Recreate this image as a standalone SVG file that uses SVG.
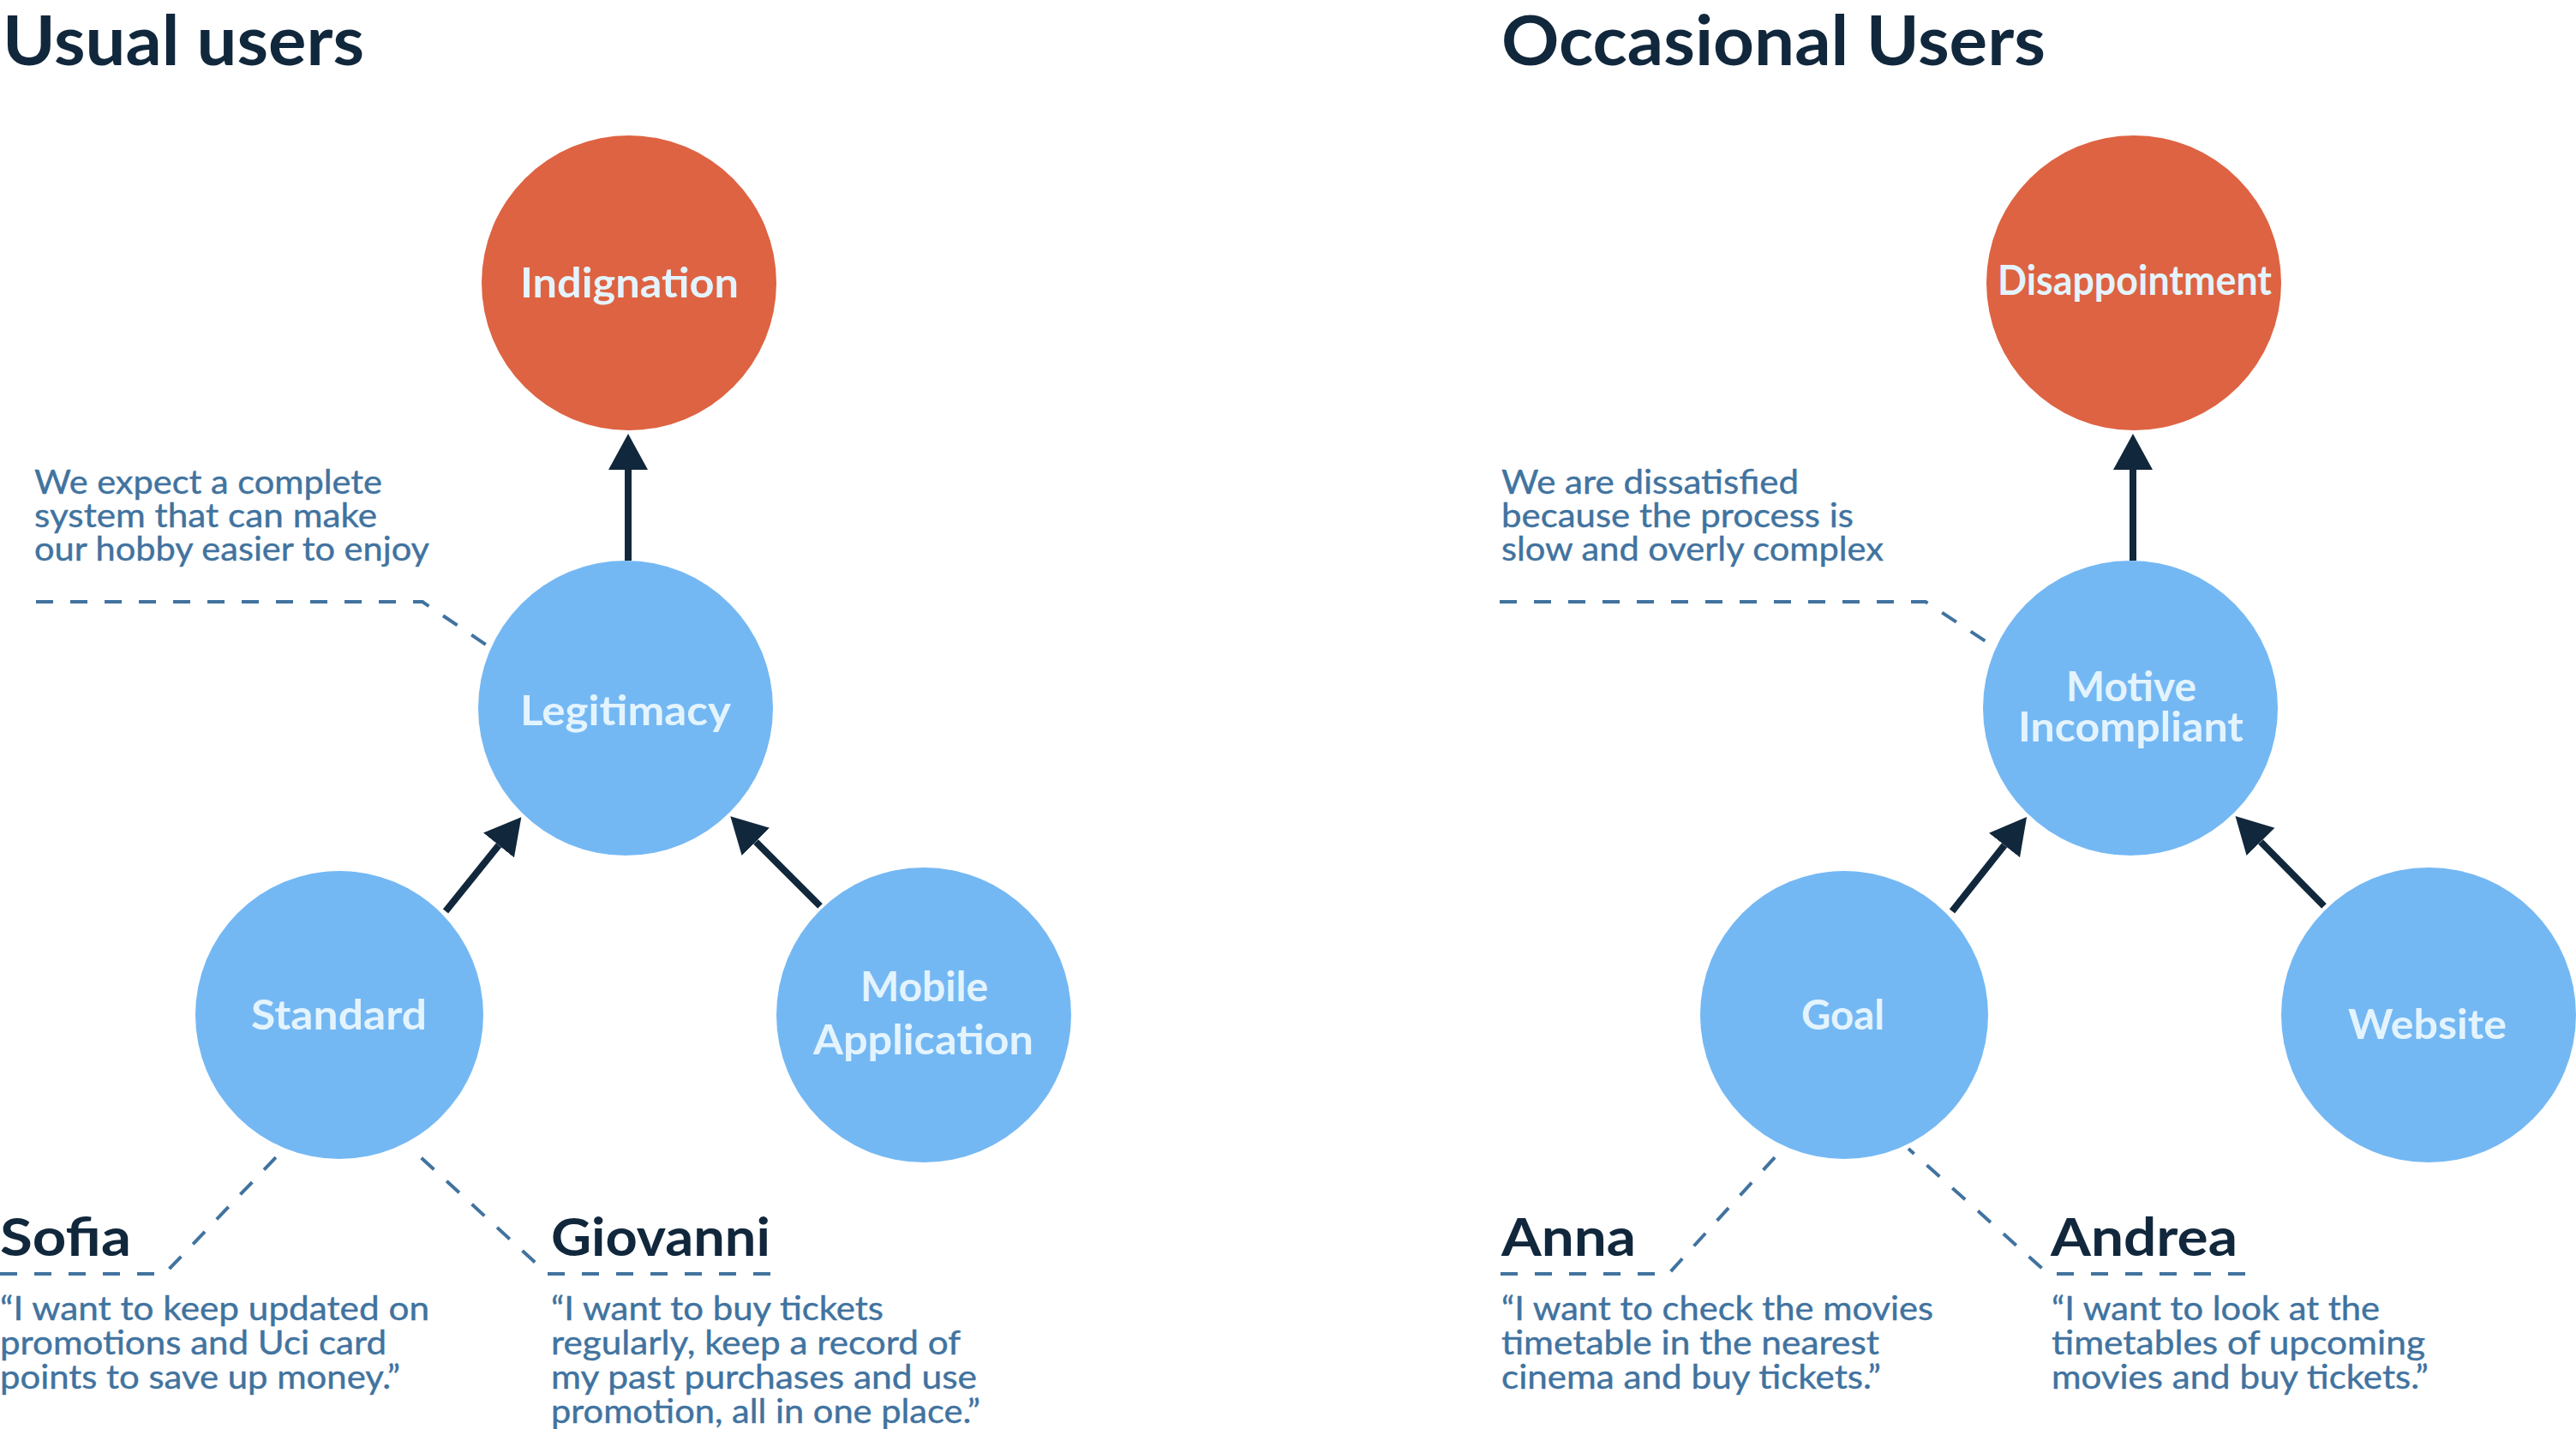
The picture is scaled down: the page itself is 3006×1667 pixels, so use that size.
<svg xmlns="http://www.w3.org/2000/svg" width="3006" height="1667" viewBox="0 0 3006 1667">
<style>
.title{font-family:Lato,"Liberation Sans",sans-serif;font-weight:700;font-size:80px;fill:#11273C}
.name{font-family:Lato,"Liberation Sans",sans-serif;font-weight:700;font-size:61px;fill:#11273C}
.body{font-family:Lato,"Liberation Sans",sans-serif;font-weight:400;font-size:38px;fill:#41739F;stroke:#41739F;stroke-width:0.4px}
.lbl{font-family:Lato,"Liberation Sans",sans-serif;font-weight:700;font-size:47px;fill:#E4F4FE}
.blue{fill:#74B8F3}
.orange{fill:#DE6342}
.arrow{stroke:#11273C;stroke-width:8;fill:none;marker-end:url(#ah)}
.dash{stroke:#41739F;stroke-width:4;fill:none;stroke-dasharray:20 20}
</style>
<defs>
<marker id="ah" markerUnits="userSpaceOnUse" markerWidth="46" markerHeight="48" refX="0" refY="23" orient="auto" viewBox="0 0 46 46">
<path d="M0,0 L42,23 L0,46 z" fill="#11273C"/>
</marker>
</defs>
<rect width="3006" height="1667" fill="#FFFFFF"/>

<text class="title" x="3" y="76" textLength="422" lengthAdjust="spacingAndGlyphs">Usual users</text>
<text class="title" x="1752" y="76" textLength="635" lengthAdjust="spacingAndGlyphs">Occasional Users</text>

<g id="connectors">
<line class="arrow" x1="733" y1="654" x2="733" y2="548"/>
<line class="arrow" x1="520" y1="1063" x2="582" y2="986"/>
<line class="arrow" x1="957" y1="1057" x2="882" y2="982"/>
<line class="arrow" x1="2489" y1="654" x2="2489" y2="548"/>
<line class="arrow" x1="2278" y1="1063" x2="2339" y2="986"/>
<line class="arrow" x1="2712" y1="1057" x2="2638" y2="982"/>
<path class="dash" d="M42 702 H493 L567 752"/>
<path class="dash" d="M1750 702 H2247 L2323 752"/>
<path class="dash" d="M0 1486 H192 L322 1350"/>
<path class="dash" d="M899 1486 H639 L480 1340"/>
<path class="dash" d="M1751 1486 H1947 L2073 1348"/>
<path class="dash" d="M2620 1486 H2390 L2227 1340"/>
</g>

<g id="indignation">
<circle class="orange" cx="734" cy="330" r="172"/>
<text class="lbl" x="607" y="347" textLength="255" lengthAdjust="spacingAndGlyphs">Indignation</text>
</g>
<g id="legitimacy">
<circle class="blue" cx="730" cy="826" r="172"/>
<text class="lbl" x="607" y="846" textLength="246" lengthAdjust="spacingAndGlyphs">Legitimacy</text>
</g>
<g id="standard">
<circle class="blue" cx="396" cy="1184" r="168"/>
<text class="lbl" x="293" y="1201" textLength="205" lengthAdjust="spacingAndGlyphs">Standard</text>
</g>
<g id="mobile-application">
<circle class="blue" cx="1078" cy="1184" r="172"/>
<text class="lbl" x="1004" y="1168" textLength="149" lengthAdjust="spacingAndGlyphs">Mobile</text>
<text class="lbl" x="949" y="1230" textLength="257" lengthAdjust="spacingAndGlyphs">Application</text>
</g>
<g id="disappointment">
<circle class="orange" cx="2490" cy="330" r="172"/>
<text class="lbl" x="2331" y="344" textLength="320" lengthAdjust="spacingAndGlyphs">Disappointment</text>
</g>
<g id="motive-incompliant">
<circle class="blue" cx="2486" cy="826" r="172"/>
<text class="lbl" x="2411" y="818" textLength="152" lengthAdjust="spacingAndGlyphs">Motive</text>
<text class="lbl" x="2355" y="865" textLength="263" lengthAdjust="spacingAndGlyphs">Incompliant</text>
</g>
<g id="goal">
<circle class="blue" cx="2152" cy="1184" r="168"/>
<text class="lbl" x="2102" y="1201" textLength="97" lengthAdjust="spacingAndGlyphs">Goal</text>
</g>
<g id="website">
<circle class="blue" cx="2834" cy="1184" r="172"/>
<text class="lbl" x="2740" y="1212" textLength="185" lengthAdjust="spacingAndGlyphs">Website</text>
</g>

<g id="note-usual">
<text class="body" x="40" y="576" textLength="406" lengthAdjust="spacingAndGlyphs">We expect a complete</text>
<text class="body" x="40" y="615" textLength="400" lengthAdjust="spacingAndGlyphs">system that can make</text>
<text class="body" x="40" y="654" textLength="461" lengthAdjust="spacingAndGlyphs">our hobby easier to enjoy</text>
</g>
<g id="note-occasional">
<text class="body" x="1752" y="576" textLength="347" lengthAdjust="spacingAndGlyphs">We are dissatisfied</text>
<text class="body" x="1752" y="615" textLength="411" lengthAdjust="spacingAndGlyphs">because the process is</text>
<text class="body" x="1752" y="654" textLength="446" lengthAdjust="spacingAndGlyphs">slow and overly complex</text>
</g>

<g id="persona-sofia">
<text class="name" x="0" y="1465" textLength="153" lengthAdjust="spacingAndGlyphs">Sofia</text>
<text class="body" x="0" y="1540" textLength="501" lengthAdjust="spacingAndGlyphs">“I want to keep updated on</text>
<text class="body" x="0" y="1580" textLength="451" lengthAdjust="spacingAndGlyphs">promotions and Uci card</text>
<text class="body" x="0" y="1620" textLength="467" lengthAdjust="spacingAndGlyphs">points to save up money.”</text>
</g>
<g id="persona-giovanni">
<text class="name" x="643" y="1465" textLength="256" lengthAdjust="spacingAndGlyphs">Giovanni</text>
<text class="body" x="643" y="1540" textLength="388" lengthAdjust="spacingAndGlyphs">“I want to buy tickets</text>
<text class="body" x="643" y="1580" textLength="478" lengthAdjust="spacingAndGlyphs">regularly, keep a record of</text>
<text class="body" x="643" y="1620" textLength="497" lengthAdjust="spacingAndGlyphs">my past purchases and use</text>
<text class="body" x="643" y="1660" textLength="501" lengthAdjust="spacingAndGlyphs">promotion, all in one place.”</text>
</g>
<g id="persona-anna">
<text class="name" x="1752" y="1465" textLength="157" lengthAdjust="spacingAndGlyphs">Anna</text>
<text class="body" x="1752" y="1540" textLength="504" lengthAdjust="spacingAndGlyphs">“I want to check the movies</text>
<text class="body" x="1752" y="1580" textLength="441" lengthAdjust="spacingAndGlyphs">timetable in the nearest</text>
<text class="body" x="1752" y="1620" textLength="443" lengthAdjust="spacingAndGlyphs">cinema and buy tickets.”</text>
</g>
<g id="persona-andrea">
<text class="name" x="2393" y="1465" textLength="218" lengthAdjust="spacingAndGlyphs">Andrea</text>
<text class="body" x="2394" y="1540" textLength="383" lengthAdjust="spacingAndGlyphs">“I want to look at the</text>
<text class="body" x="2394" y="1580" textLength="436" lengthAdjust="spacingAndGlyphs">timetables of upcoming</text>
<text class="body" x="2394" y="1620" textLength="440" lengthAdjust="spacingAndGlyphs">movies and buy tickets.”</text>
</g>
</svg>
